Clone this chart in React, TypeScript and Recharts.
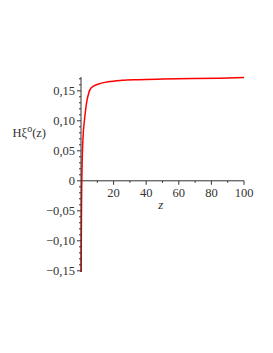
import { LineChart, Line, XAxis, YAxis, ReferenceLine, ReferenceDot } from "recharts";

// values
const zValues = [0.1, 0.2, 0.35, 0.5, 0.7, 1.0, 1.4, 2, 2.6, 3.3, 4.7, 6.3, 10.4, 16.6, 25, 35, 50, 69, 85, 100];
const hValues = [
  -0.152, -0.09, -0.03, 0, 0.03, 0.058, 0.08, 0.098, 0.113, 0.128, 0.146, 0.155, 0.161, 0.165,
  0.1675, 0.1686, 0.1695, 0.1703, 0.171, 0.172,
];

const yMajorTicks = [-0.15, -0.1, -0.05, 0, 0.05, 0.1, 0.15];
const yMinorTicks = [
  -0.15, -0.14, -0.13, -0.12, -0.11, -0.1, -0.09, -0.08, -0.07, -0.06, -0.05, -0.04, -0.03, -0.02,
  -0.01, 0, 0.01, 0.02, 0.03, 0.04, 0.05, 0.06, 0.07, 0.08, 0.09, 0.1, 0.11, 0.12, 0.13, 0.14,
  0.15, 0.16, 0.17,
];
const xMajorTicks = [20, 40, 60, 80, 100];
const xMinorTicks = [10, 30, 50, 70, 90];

const data = zValues.map((z, i) => ({ z, h: hValues[i] }));

const FONT = "Liberation Serif, Times New Roman, serif";
const INK = "#333";

const fmt = (v: number) => {
  if (Math.abs(v) < 1e-9) return "0";
  const s = Math.abs(v).toFixed(2).replace(".", ",");
  return v < 0 ? "\u2212" + s : s;
};

const YTick = (props: any) => {
  const { x, y, payload } = props;
  const v = payload.value;
  const major = yMajorTicks.some((t) => Math.abs(t - v) < 1e-6);
  return (
    <g>
      <line x1={x - (major ? 4 : 2)} x2={x} y1={y} y2={y} stroke={INK} strokeWidth={1} />
      {major && (
        <text x={x - 6} y={y + 4} textAnchor="end" style={{ fontFamily: FONT }} fontSize={12.5} fill={INK}>
          {fmt(v)}
        </text>
      )}
    </g>
  );
};

export default function App() {
  return (
    <div style={{ position: "absolute", left: 0, top: 0, background: "#fff", fontFamily: FONT }}>
      <LineChart
        width={273}
        height={353}
        data={data}
        margin={{ top: 77, right: 29, bottom: 81, left: 31 }}
      >
        <XAxis dataKey="z" type="number" domain={[0, 100]} hide />
        <YAxis
          type="number"
          domain={[-0.152, 0.173]}
          ticks={yMinorTicks}
          interval={0}
          width={50}
          tickSize={0}
          tickMargin={0}
          tickLine={false}
          axisLine={{ stroke: INK }}
          tick={<YTick />}
        />
        <ReferenceLine y={0} stroke={INK} strokeWidth={1} />
        {xMajorTicks.map((t) => (
          <ReferenceDot
            key={"xm" + t}
            x={t}
            y={0}
            shape={(p: any) => (
              <g>
                <line x1={p.cx} x2={p.cx} y1={p.cy} y2={p.cy + 4} stroke={INK} />
                <text x={p.cx} y={p.cy + 16} textAnchor="middle" style={{ fontFamily: FONT }} fontSize={12.5} fill={INK}>
                  {t}
                </text>
              </g>
            )}
          />
        ))}
        {xMinorTicks.map((t) => (
          <ReferenceDot
            key={"xn" + t}
            x={t}
            y={0}
            shape={(p: any) => <line x1={p.cx} x2={p.cx} y1={p.cy} y2={p.cy + 2} stroke={INK} />}
          />
        ))}
        <ReferenceDot
          x={49}
          y={0}
          shape={(p: any) => (
            <text x={p.cx} y={p.cy + 28} textAnchor="middle" style={{ fontFamily: FONT, fontStyle: "italic" }} fontSize={13} fill={INK}>
              z
            </text>
          )}
        />
        <ReferenceDot
          x={0}
          y={0.08}
          shape={(p: any) => (
            <text x={p.cx - 35} y={p.cy + 4} textAnchor="end" style={{ fontFamily: FONT }} fontSize={12.5} fill={INK}>
              Hξ
              <tspan dy={-5} fontSize={10}>o</tspan>
              <tspan dy={5}>(z)</tspan>
            </text>
          )}
        />
        <Line
          type="monotone"
          dataKey="h"
          stroke="#ff0000"
          strokeWidth={1.5}
          dot={false}
          isAnimationActive={false}
        />
      </LineChart>
    </div>
  );
}
